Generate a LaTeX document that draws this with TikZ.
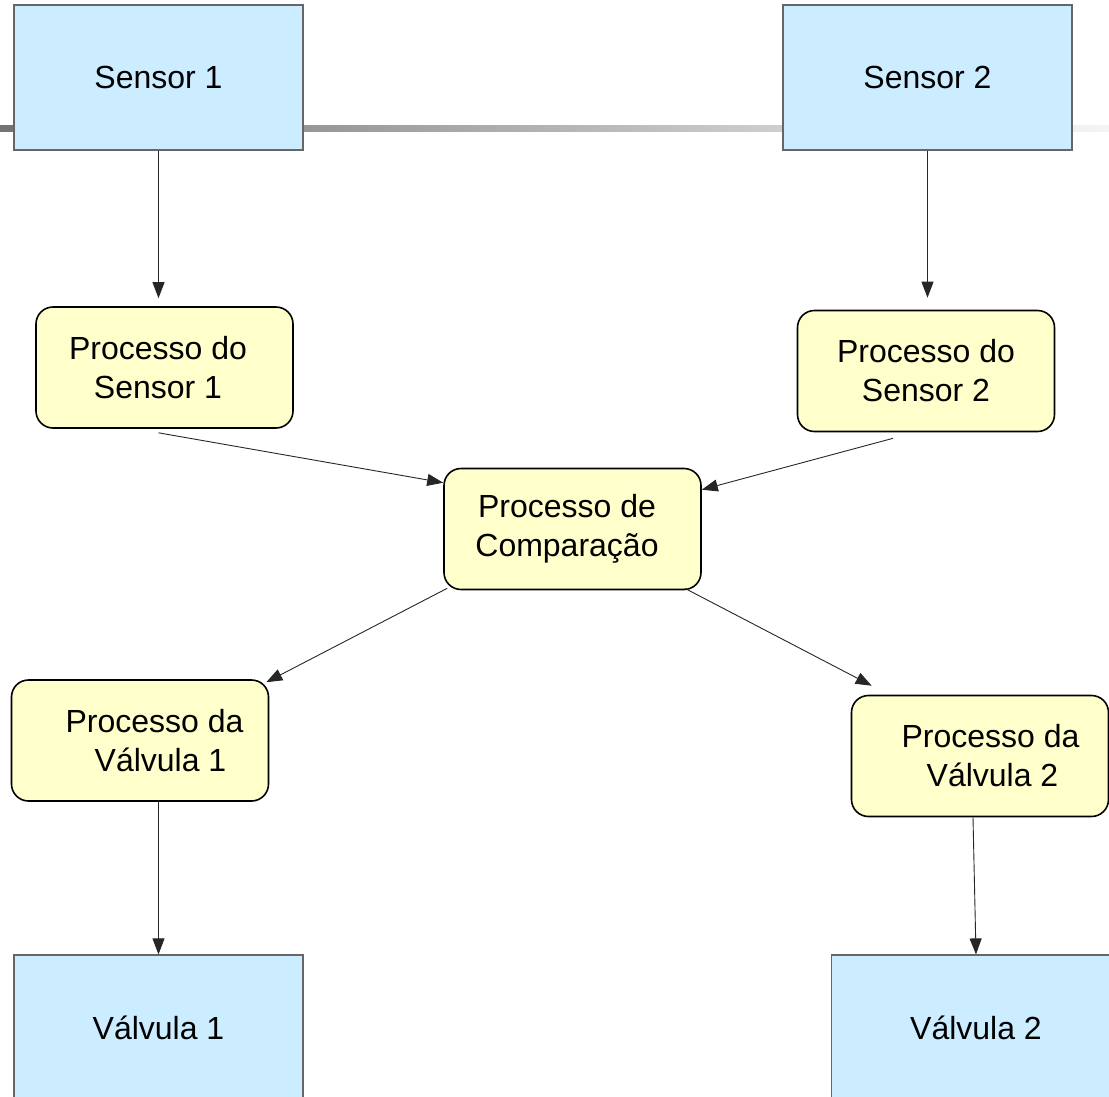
\documentclass[tikz,border=0pt]{standalone}
\usepackage{fontspec}
\setmainfont{Liberation Sans}
\usetikzlibrary{calc,arrows.meta,positioning}
\definecolor{sensorblue}{RGB}{204,236,255}
\definecolor{procyellow}{RGB}{255,255,204}

\begin{document}
\begin{tikzpicture}[x=1pt,y=-1pt,
	bloco/.style={draw=black!60,line width=1.2pt,fill=sensorblue,minimum width=289pt,minimum height=145pt,inner sep=0pt,font=\fontsize{32}{39}\selectfont},
	processo/.style={draw=black,line width=1.6pt,fill=procyellow,rounded corners=17pt,minimum width=257pt,minimum height=121pt,inner sep=0pt,align=center,font=\fontsize{32}{39}\selectfont},
	seta/.style={-{Triangle[length=16pt,width=12pt]},line width=0.9pt,black!85}]
	\useasboundingbox (0,0) rectangle (1109,1096);
	
	% faixa cinza
	\shade[left color=black!55, right color=black!4] (0,125) rectangle (1109,131);
	
	\node[bloco] (s1) at (158.5,77.5) {Sensor 1};
	\node[bloco] (s2) at (927.5,77.5) {Sensor 2};
	
	\node[processo] (ps1) at (164.5,367.5) {Processo do\hspace*{13pt}\\Sensor 1\hspace*{13pt}};
	\node[processo] (ps2) at (926,371) {Processo do\\Sensor 2};
	\node[processo] (comp) at (572.5,529) {Processo de\hspace*{11pt}\\Comparação\hspace*{11pt}};
	\node[processo] (pv1) at (140,740.5) {\hspace*{29pt}Processo da\\\hspace*{41pt}Válvula 1};
	\node[processo] (pv2) at (980,756) {\hspace*{21pt}Processo da\\\hspace*{25pt}Válvula 2};
	
	\node[bloco] (v1) at (158.5,1027.5) {Válvula 1};
	\node[bloco] (v2) at (976,1027.5) {Válvula 2};
	
	\draw[seta] (s1.south) -- ([yshift=8pt]s1.south |- ps1.north);
	\draw[seta] (s2.south) -- ([yshift=12pt]s2.south |- ps2.north);
	
	\draw[seta] ([yshift=-4pt]s1.south |- ps1.south) -- ([yshift=-15pt]comp.north west);
	\draw[seta] ([xshift=-33pt,yshift=-6pt]ps2.south) -- ([yshift=-22pt]comp.north east);
	
	\draw[seta] ([xshift=4pt,yshift=2pt]comp.south west) -- ([xshift=-3pt,yshift=-3pt]pv1.north east);
	\draw[seta] ([xshift=-17pt,yshift=2pt]comp.south east) -- ([xshift=21pt,yshift=9pt]pv2.north west);
	
	\draw[seta] (v1.north |- pv1.south) -- (v1.north);
	\draw[seta] ([xshift=-7pt]pv2.south) -- (v2.north);
\end{tikzpicture}
\end{document}
